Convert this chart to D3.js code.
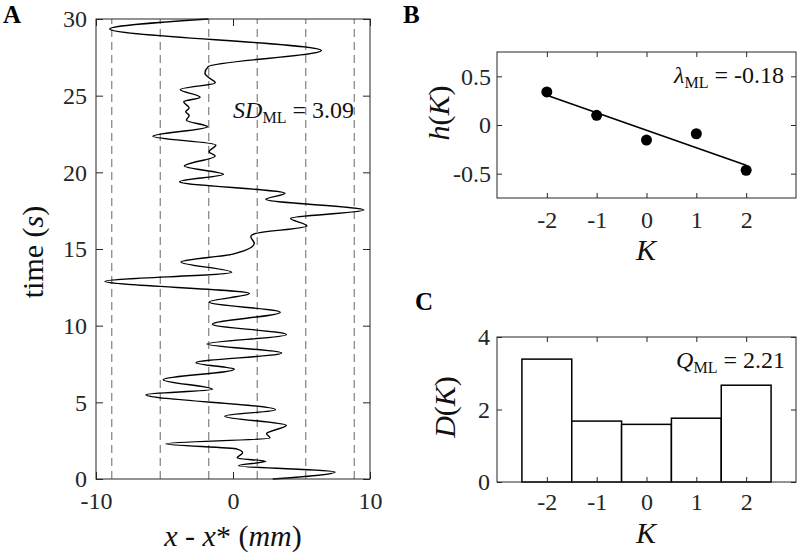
<!DOCTYPE html>
<html>
<head>
<meta charset="utf-8">
<script src="https://cdn.jsdelivr.net/npm/d3@7"></script>
<style>
  body { margin: 0; background: #fff; }
  svg { display: block; font-family: "Liberation Serif", "Times New Roman", serif; }
  .tick text { fill: #262626; }
</style>
</head>
<body>
<div id="chart"></div>
<script>
// panel A: trajectory (time in s, deviation in mm)
const trajT = [0.0, 0.46, 0.87, 1.15, 1.37, 1.72, 1.95, 2.3, 2.67, 2.96, 3.5, 4.1, 4.52, 5.5, 5.85, 6.48,
  7.15, 7.58, 8.22, 8.8, 9.41, 10.1, 10.87, 11.54, 12.09, 12.89, 13.48, 14.15, 14.67, 15.37, 15.8, 16.0,
  16.5, 17.0, 17.54, 18.24, 18.63, 19.39, 19.87, 20.41, 21.07, 21.35, 21.78, 22.35, 22.97, 23.4, 23.7,
  23.95, 24.2, 24.6, 24.9, 25.4, 25.85, 26.13, 26.46, 26.9, 27.94, 29.35, 30.0];
const trajX = [2.9, 7.45, 0.4, 2.4, 0.3, 0.7, 0.3, -4.9, 2.7, 2.45, 3.9, -0.6, 3.1, -6.35, -1.5, -5.1,
  0.1, -2.7, 3.55, -1.9, 3.9, -1.5, 3.45, -1.75, 1.2, -9.35, -0.1, -3.8, 0.0, 1.55, 1.3, 1.6,
  5.4, 4.2, 9.55, 2.4, 3.8, -3.9, -0.7, -3.55, -1.3, -1.75, -1.25, -5.85, -1.85, -3.4, -3.2,
  -3.45, -3.2, -3.6, -2.4, -3.85, -1.3, -1.7, -2.05, -1.8, 6.45, -9.0, -1.8];
const binEdges = [-8.85, -5.31, -1.77, 1.77, 5.31, 8.85];
const aXTicks = [-10, 0, 10];
const aYTicks = [0, 5, 10, 15, 20, 25, 30];

// panels B and C
const kVals = [-2, -1, 0, 1, 2];
const hVals = [0.34, 0.10, -0.155, -0.09, -0.465];
const dVals = [3.39, 1.68, 1.59, 1.76, 2.67];
const bYTicks = [-0.5, 0, 0.5];
const cYTicks = [0, 2, 4];

const svg = d3.select("#chart").append("svg").attr("width", 798).attr("height", 556);

const tickFont = 24, labelFont = 30;
const intFmt = d => String(d);

function frame(g, x, y, xTicks, yTicks, tickLen, fmtY, padX, padY) {
    const [x0, x1] = x.range(), [y0, y1] = y.range();
    g.append("g").attr("transform", `translate(0,${y0})`)
        .call(d3.axisBottom(x).tickValues(xTicks).tickSize(-tickLen).tickPadding(padX).tickFormat(intFmt));
    g.append("g").attr("transform", `translate(${x0},0)`)
        .call(d3.axisLeft(y).tickValues(yTicks).tickSize(-tickLen).tickPadding(padY).tickFormat(fmtY));
    g.append("g").attr("transform", `translate(0,${y1})`)
        .call(d3.axisTop(x).tickValues(xTicks).tickSize(-tickLen).tickFormat(""));
    g.append("g").attr("transform", `translate(${x1},0)`)
        .call(d3.axisRight(y).tickValues(yTicks).tickSize(-tickLen).tickFormat(""));
    g.selectAll(".domain").remove();
    g.selectAll("g").attr("font-family", "Liberation Serif").attr("font-size", tickFont);
    g.selectAll(".tick line").attr("stroke", "#262626").attr("stroke-width", 1);
    g.selectAll(".tick text").attr("font-size", tickFont).attr("font-family", "Liberation Serif");
    g.append("rect").attr("x", x0).attr("y", y1).attr("width", x1 - x0).attr("height", y0 - y1)
        .attr("fill", "none").attr("stroke", "#262626").attr("stroke-width", 1);
}

function mlText(g, x, y, sym, value) {
    const t = g.append("text").attr("x", x).attr("y", y).attr("text-anchor", "end")
        .attr("font-size", 24).attr("fill", "#111");
    t.append("tspan").attr("font-style", "italic").text(sym);
    t.append("tspan").attr("font-size", 16).attr("dy", 5).text("ML");
    t.append("tspan").attr("dy", -5).text(" = " + value);
}

// ---------- panel A ----------
const xA = d3.scaleLinear().domain([-10, 10]).range([96, 370]);
const yA = d3.scaleLinear().domain([0, 30]).range([479, 19]);
const gA = svg.append("g");

gA.selectAll("line.edge").data(binEdges).enter().append("line")
    .attr("class", "edge")
    .attr("x1", d => xA(d)).attr("x2", d => xA(d))
    .attr("y1", yA(0)).attr("y2", yA(30))
    .attr("stroke", "#808080").attr("stroke-width", 1.2).attr("stroke-dasharray", "8,5");

const traj = trajT.map((t, i) => ({ t: t, x: trajX[i] })).sort((a, b) => b.t - a.t);
gA.append("path").datum(traj)
    .attr("fill", "none").attr("stroke", "#000").attr("stroke-width", 1.4)
    .attr("d", d3.line().x(d => xA(d.x)).y(d => yA(d.t)).curve(d3.curveMonotoneY));

frame(gA, xA, yA, aXTicks, aYTicks, 7, intFmt, 13, 9);

gA.append("text").attr("transform", `translate(43,252) rotate(-90)`).attr("text-anchor", "middle")
    .attr("font-size", labelFont).attr("fill", "#111")
    .html('time (<tspan font-style="italic">s</tspan>)');
gA.append("text").attr("x", 233).attr("y", 546).attr("text-anchor", "middle")
    .attr("font-size", labelFont).attr("fill", "#111")
    .html('<tspan font-style="italic">x</tspan> - <tspan font-style="italic">x</tspan>* (<tspan font-style="italic">mm</tspan>)');
mlText(gA, 354, 118, "SD", "3.09");
svg.append("text").attr("x", 3).attr("y", 23).attr("font-size", 25).attr("font-weight", "bold").text("A");

// ---------- panel B ----------
const xB = d3.scaleLinear().domain([-3, 3]).range([497, 796]);
const yB = d3.scaleLinear().domain([-0.75, 0.75]).range([198, 52]);
const gB = svg.append("g");
frame(gB, xB, yB, kVals, bYTicks, 5, d => d === 0 ? "0" : d.toFixed(1), 13, 6);

const meanK = d3.mean(kVals), meanH = d3.mean(hVals);
const slope = d3.sum(kVals, (k, i) => (k - meanK) * (hVals[i] - meanH)) / d3.sum(kVals, k => (k - meanK) ** 2);
const fitEnds = [d3.min(kVals), d3.max(kVals)];
gB.append("line")
    .attr("x1", xB(fitEnds[0])).attr("y1", yB(meanH + slope * (fitEnds[0] - meanK)))
    .attr("x2", xB(fitEnds[1])).attr("y2", yB(meanH + slope * (fitEnds[1] - meanK)))
    .attr("stroke", "#000").attr("stroke-width", 1.6);
gB.selectAll("circle").data(kVals).enter().append("circle")
    .attr("cx", d => xB(d)).attr("cy", (d, i) => yB(hVals[i])).attr("r", 5.5).attr("fill", "#000");

gB.append("text").attr("x", 646).attr("y", 260).attr("text-anchor", "middle")
    .attr("font-size", labelFont).attr("font-style", "italic").attr("fill", "#111").text("K");
gB.append("text").attr("transform", `translate(449,113) rotate(-90)`).attr("text-anchor", "middle")
    .attr("font-size", labelFont).attr("fill", "#111")
    .html('<tspan font-style="italic">h</tspan>(<tspan font-style="italic">K</tspan>)');
mlText(gB, 784, 83, "\u03BB", "-0.18");
svg.append("text").attr("x", 403).attr("y", 23).attr("font-size", 25).attr("font-weight", "bold").text("B");

// ---------- panel C ----------
const xC = d3.scaleLinear().domain([-3, 3]).range([497, 796]);
const yC = d3.scaleLinear().domain([0, 4]).range([482, 337]);
const gC = svg.append("g");
gC.selectAll("rect.bar").data(kVals).enter().append("rect")
    .attr("class", "bar")
    .attr("x", d => xC(d - 0.5)).attr("width", d => xC(d + 0.5) - xC(d - 0.5))
    .attr("y", (d, i) => yC(dVals[i])).attr("height", (d, i) => yC(0) - yC(dVals[i]))
    .attr("fill", "#fff").attr("stroke", "#000").attr("stroke-width", 1.5);
frame(gC, xC, yC, kVals, cYTicks, 5, intFmt, 11, 7);

gC.append("text").attr("x", 646).attr("y", 543).attr("text-anchor", "middle")
    .attr("font-size", labelFont).attr("font-style", "italic").attr("fill", "#111").text("K");
gC.append("text").attr("transform", `translate(455,407) rotate(-90)`).attr("text-anchor", "middle")
    .attr("font-size", labelFont).attr("fill", "#111")
    .html('<tspan font-style="italic">D</tspan>(<tspan font-style="italic">K</tspan>)');
mlText(gC, 785, 368, "Q", "2.21");
svg.append("text").attr("x", 415).attr("y", 310).attr("font-size", 25).attr("font-weight", "bold").text("C");
</script>
</body>
</html>
